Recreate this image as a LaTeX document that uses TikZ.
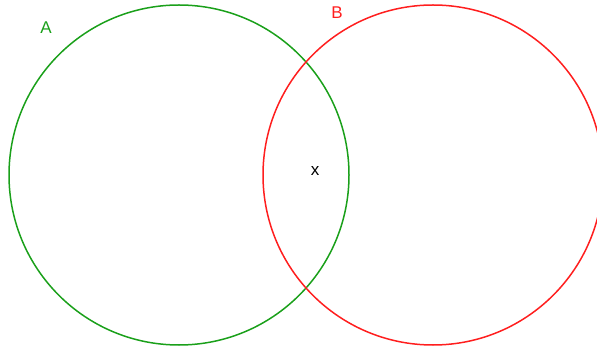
\documentclass[tikz,border=0pt]{standalone}
\usepackage{fontspec}
\setmainfont{Liberation Sans}
\definecolor{setA}{HTML}{1AA01A}
\definecolor{setB}{HTML}{FF1E1E}
\usetikzlibrary{positioning}
\tikzset{
  set_circle/.style={circle,draw,line width=1.5pt,minimum size=340pt,inner sep=0pt},
  set_label/.style={font=\fontsize{17}{17}\selectfont,inner sep=0pt},
}
\begin{document}
\begin{tikzpicture}[x=1pt,y=-1pt]
  \useasboundingbox (0,0) rectangle (597,347);

  \node[set_circle,draw=setA] (cA) at (179,175) {};
  \node[set_circle,draw=setB] (cB) at (433,175) {};

  \node[set_label,text=setA] (lA) at (46,28) {A};
  \node[set_label,text=setB] (lB) at (337,13) {B};
  \node[set_label] (lx) at (315,171) {x};
\end{tikzpicture}
\end{document}
